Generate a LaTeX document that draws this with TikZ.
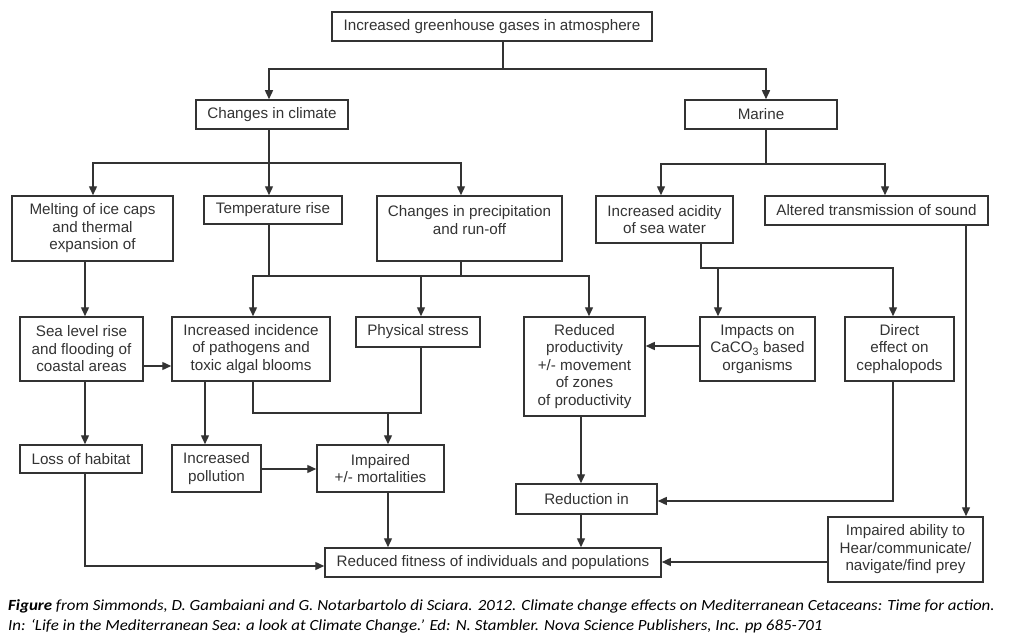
\documentclass[tikz,border=0pt]{standalone}
\usepackage{fontspec}
\setmainfont{Liberation Sans}
\newfontfamily\capfont[FakeStretch=1.09]{Carlito}
\usetikzlibrary{arrows.meta}
\definecolor{ink}{HTML}{333333}
\begin{document}
\begin{tikzpicture}[x=1pt,y=1pt,
  box/.style={draw=ink, line width=1.5pt, inner sep=0pt, align=center, text=ink,
    font=\fontsize{15.2}{17.5}\selectfont},
  sz/.style 2 args={minimum width=#1, minimum height=#2},
  link/.style={draw=ink, line width=1.4pt},
  arr/.style={link, -{Triangle[length=9pt,width=8pt]}},
  captxt/.style={anchor=base west, inner sep=0pt, text=black,
    font=\capfont\itshape\fontsize{15.5}{20}\selectfont}]
\useasboundingbox (0,0) rectangle (1010,-642);

% boxes
\node[box, sz={320}{29}] (top) at (492,-26.5) {Increased greenhouse gases in atmosphere};
\node[box, sz={152}{29}] (cc) at (272,-114.5) {Changes in climate};
\node[box, sz={152}{29}] (mar) at (761,-114.5) {Marine};
\node[box, sz={161}{65}] (melt) at (92.5,-228.5) {Melting of ice caps\\and thermal\\expansion of};
\node[box, sz={138}{28}] (temp) at (273,-210) {Temperature rise};
\node[box, sz={185}{65}] (prec) at (469.5,-228.5) {Changes in precipitation\\and run-off\\\mbox{}};
\node[box, sz={137}{47}] (acid) at (664.5,-219.5) {Increased acidity\\of sea water};
\node[box, sz={223}{29}] (sound) at (876.5,-210.5) {Altered transmission of sound};
\node[box, sz={123}{64}] (sea) at (81.5,-349) {Sea level rise\\and flooding of\\coastal areas};
\node[box, sz={158}{64}] (path) at (251,-349) {Increased incidence\\of pathogens and\\toxic algal blooms};
\node[box, sz={124}{30}] (phys) at (418,-332) {Physical stress};
\node[box, sz={121}{99}] (prod) at (584.5,-366.5) {Reduced\\productivity\\+/- movement\\of zones\\of productivity};
\node[box, sz={115}{64}] (caco) at (757.5,-349) {Impacts on\\CaCO\textsubscript{3} based\\organisms};
\node[box, sz={109}{64}] (ceph) at (899.5,-349) {Direct\\effect on\\cephalopods};
\node[box, sz={122}{28}] (loss) at (81,-459) {Loss of habitat};
\node[box, sz={89}{47}] (poll) at (216.5,-468.5) {Increased\\pollution};
\node[box, sz={127}{47}] (mort) at (380.5,-468.5) {Impaired\\+/- mortalities};
\node[box, sz={141}{30}] (red) at (586.5,-499) {Reduction in};
\node[box, sz={336}{29}] (fit) at (493,-562.5) {Reduced fitness of individuals and populations};
\node[box, sz={155}{65}] (hear) at (905.5,-549.5) {Impaired ability to\\Hear/communicate/\\navigate/find prey};

% junction coordinates
\coordinate (ja) at (503,-69);  \coordinate (ja1) at (269,-69); \coordinate (ja2) at (766,-69);
\coordinate (jb) at (269,-163); \coordinate (jb1) at (93,-163); \coordinate (jb3) at (461,-163);
\coordinate (jc) at (766,-164); \coordinate (jc1) at (661,-164); \coordinate (jc2) at (885,-164);
\coordinate (jd) at (85,0);
\coordinate (je1) at (269,-276); \coordinate (je2) at (461,-276);
\coordinate (jeL) at (253,-276); \coordinate (jeM) at (421,-276); \coordinate (jeR) at (589,-276);
\coordinate (jf) at (701,-268); \coordinate (jf1) at (718,-268); \coordinate (jf2) at (893,-268);
\coordinate (jg) at (966,0);
\coordinate (jh) at (0,-366);
\coordinate (ji) at (0,-346);
\coordinate (jk) at (205,0);
\coordinate (jl1) at (253,-413); \coordinate (jl2) at (421,-413); \coordinate (jl3) at (388,-413);
\coordinate (jm) at (0,-469);
\coordinate (jo) at (85,-566);
\coordinate (jp) at (581,0);
\coordinate (jq) at (893,-501);
\coordinate (js) at (0,-562);

% connectors
\draw[link] (top.south -| ja) -- (ja);
\draw[arr] (ja) -- (ja1) -- (cc.north -| ja1);
\draw[arr] (ja) -- (ja2) -- (mar.north -| ja2);

\draw[link] (cc.south -| jb) -- (jb);
\draw[arr] (jb) -- (jb1) -- (melt.north -| jb1);
\draw[arr] (jb) -- (temp.north -| jb);
\draw[arr] (jb) -- (jb3) -- (prec.north -| jb3);

\draw[link] (mar.south -| jc) -- (jc);
\draw[arr] (jc) -- (jc1) -- (acid.north -| jc1);
\draw[arr] (jc) -- (jc2) -- (sound.north -| jc2);

\draw[arr] (melt.south -| jd) -- (sea.north -| jd);
\draw[arr] (sea.south -| jd) -- (loss.north -| jd);
\draw[arr] (loss.south -| jd) -- (jo) -- (fit.west |- jo);

\draw[link] (temp.south -| je1) -- (je1);
\draw[link] (prec.south -| je2) -- (je2);
\draw[arr] (jeM) -- (jeL) -- (path.north -| jeL);
\draw[arr] (jeM) -- (jeR) -- (prod.north -| jeR);
\draw[arr] (jeM) -- (phys.north -| jeM);

\draw[arr] (acid.south -| jf) -- (jf) -- (jf2) -- (ceph.north -| jf2);
\draw[arr] (jf1) -- (caco.north -| jf1);

\draw[arr] (sound.south -| jg) -- (hear.north -| jg);

\draw[arr] (sea.east |- jh) -- (path.west |- jh);
\draw[arr] (caco.west |- ji) -- (prod.east |- ji);
\draw[arr] (path.south -| jk) -- (poll.north -| jk);

\draw[link] (path.south -| jl1) -- (jl1) -- (jl2) -- (phys.south -| jl2);
\draw[arr] (jl3) -- (mort.north -| jl3);
\draw[arr] (poll.east |- jm) -- (mort.west |- jm);
\draw[arr] (mort.south -| jl3) -- (fit.north -| jl3);

\draw[arr] (prod.south -| jp) -- (red.north -| jp);
\draw[arr] (red.south -| jp) -- (fit.north -| jp);
\draw[arr] (ceph.south -| jq) -- (jq) -- (red.east |- jq);
\draw[arr] (hear.west |- js) -- (fit.east |- js);

% caption
\node[captxt] (cap1) at (8,-610) {\textbf{Figure} from Simmonds, D. Gambaiani and G. Notarbartolo di Sciara. 2012. Climate change effects on Mediterranean Cetaceans: Time for action.};
\node[captxt] (cap2) at (8,-630) {In: ‘Life in the Mediterranean Sea: a look at Climate Change.’ Ed: N. Stambler. Nova Science Publishers, Inc. pp 685-701};
\end{tikzpicture}
\end{document}
